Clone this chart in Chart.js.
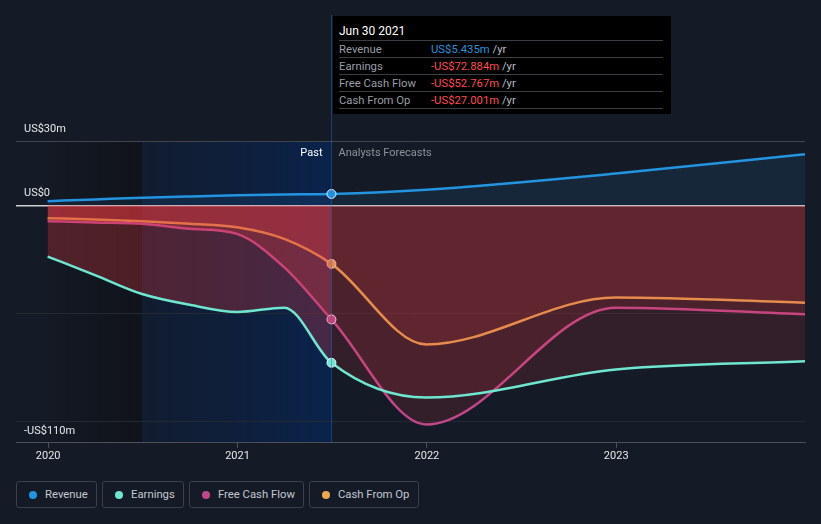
<!DOCTYPE html>
<html>
<head>
<meta charset="utf-8">
<script src="https://cdn.jsdelivr.net/npm/chart.js@4/dist/chart.umd.min.js"></script>
<style>
  html, body { margin: 0; padding: 0; background: #151b26; font-family: Roboto, "Noto Sans", sans-serif; }
  #wrap { position: relative; width: 821px; height: 524px; overflow: hidden; }
  #box { position: absolute; left: 0; top: 0; width: 821px; height: 470px; }
  #tip { position: absolute; left: 333px; top: 16px; width: 338px; height: 98px; background: #000; }
  #tip .title { position: absolute; left: 6px; top: 8px; color: #fff; font-size: 12px; }
  #tip .row { position: absolute; left: 6px; width: 324px; height: 17px; border-top: 1px solid #3a3d44; font-size: 11.3px; line-height: 17px; }
  #tip .lab { position: absolute; left: 0; color: #9a9ea6; }
  #tip .val { position: absolute; left: 92px; white-space: nowrap; }
  #tip .u { color: #b8bcc4; }
  #legend { position: absolute; left: 16px; top: 481px; display: flex; gap: 5px; }
  .item { height: 27px; border: 1px solid #3b404a; border-radius: 3px; display: flex; align-items: center; padding-left: 12px; color: #c3c7cf; font-size: 11.3px; box-sizing: border-box; white-space: nowrap; }
  .dot { width: 8px; height: 8px; border-radius: 50%; margin-right: 8px; }
</style>
</head>
<body>
<div id="wrap">
  <div id="box"><canvas id="chart" width="821" height="470"></canvas></div>
  <div id="tip"></div>
  <div id="legend"></div>
</div>
<script>
// decimal years: quarterly history, then analyst forecasts
const dates = [2019.997, 2020.247, 2020.496, 2020.748, 2020.997, 2021.247, 2021.496, 2021.997, 2022.997, 2023.997];
const revenue = [2.1, 2.9, 3.7, 4.3, 4.8, 5.2, 5.435, 7.4, 14.9, 23.9];
const earnings = [-23.6, -32.2, -41, -46, -49.3, -47.3, -72.884, -89, -76, -72.2];
const freeCashFlow = [-7.2, -7.8, -8.4, -10.7, -13.1, -28.6, -52.767, -101.5, -47.3, -50.4];
const cashFromOp = [-5.8, -6.4, -7.2, -8.4, -10, -15.4, -27.001, -64.4, -42.6, -45];

const yearTicks = [2020, 2021, 2022, 2023];
const yTicks = [-110, -100, -50, 0, 30];
const yLabels = { '30': 'US$30m', '0': 'US$0', '-110': '-US$110m' };

const pastStart = 2020.496;
const nowDate = 2021.496;

const names = ['Revenue', 'Earnings', 'Free Cash Flow', 'Cash From Op'];
const colors = ['#2394df', '#6ee6d0', '#c2478a', '#e8a952'];
const tipValues = ['US$5.435m', '-US$72.884m', '-US$52.767m', '-US$27.001m'];
const legendWidths = [81, 82, 115, 110];

function pts(vals) { return vals.map((v, i) => ({ x: dates[i], y: v })); }

function redFill(ctx) {
  const chart = ctx.chart;
  const ca = chart.chartArea;
  if (!ca) return 'rgba(226,56,62,0.2)';
  const p = chart.scales.x.getPixelForValue(nowDate);
  const s = Math.min(1, Math.max(0, (p - ca.left) / (ca.right - ca.left)));
  const g = chart.ctx.createLinearGradient(ca.left, 0, ca.right, 0);
  g.addColorStop(0, 'rgba(226,56,62,0.30)');
  g.addColorStop(s, 'rgba(226,56,62,0.28)');
  g.addColorStop(s, 'rgba(226,56,62,0.14)');
  g.addColorStop(1, 'rgba(226,56,62,0.14)');
  return g;
}

function makeSet(i, vals, fillColor) {
  return {
    label: names[i],
    data: pts(vals),
    borderColor: colors[i],
    backgroundColor: fillColor,
    fill: 'origin',
    borderWidth: 2.5,
    cubicInterpolationMode: 'monotone',
    pointRadius: c => (c.raw && c.raw.x === nowDate ? 4.5 : 0),
    pointBackgroundColor: colors[i],
    pointBorderColor: 'rgba(255,255,255,0.85)',
    pointBorderWidth: 1,
    pointHoverRadius: 0
  };
}

const bgPlugin = {
  id: 'bgPlugin',
  beforeDraw(chart) {
    const { ctx, chartArea: ca, scales: { x } } = chart;
    const x0 = x.getPixelForValue(dates[0]);
    const x1 = x.getPixelForValue(pastStart);
    const x2 = x.getPixelForValue(nowDate);
    ctx.save();
    let g = ctx.createLinearGradient(x0, 0, x1, 0);
    g.addColorStop(0, 'rgba(12,13,18,0.1)');
    g.addColorStop(1, 'rgba(12,13,18,0.55)');
    ctx.fillStyle = g;
    ctx.fillRect(x0, ca.top, x1 - x0, ca.bottom - ca.top);
    g = ctx.createLinearGradient(x1, 0, x2, 0);
    g.addColorStop(0, 'rgba(14,30,58,0.55)');
    g.addColorStop(1, 'rgba(10,36,80,0.9)');
    ctx.fillStyle = g;
    ctx.fillRect(x1, ca.top, x2 - x1, ca.bottom - ca.top);
    ctx.restore();
  },
  afterDatasetsDraw(chart) {
    const { ctx, chartArea: ca, scales: { x } } = chart;
    const x2 = Math.round(x.getPixelForValue(nowDate)) + 0.5;
    ctx.save();
    ctx.strokeStyle = 'rgba(35,110,200,0.45)';
    ctx.lineWidth = 1;
    ctx.beginPath();
    ctx.moveTo(x2, 15);
    ctx.lineTo(x2, ca.bottom);
    ctx.stroke();
    ctx.font = '11px Roboto';
    ctx.textBaseline = 'middle';
    ctx.textAlign = 'right';
    ctx.fillStyle = '#ffffff';
    ctx.fillText('Past', x2 - 9, ca.top + 12);
    ctx.textAlign = 'left';
    ctx.fillStyle = '#8d929b';
    ctx.fillText('Analysts Forecasts', x2 + 7, ca.top + 12);
    ctx.restore();
  }
};

new Chart(document.getElementById('chart'), {
  type: 'line',
  data: {
    datasets: [
      makeSet(0, revenue, 'rgba(35,148,223,0.10)'),
      makeSet(1, earnings, redFill),
      makeSet(2, freeCashFlow, redFill),
      makeSet(3, cashFromOp, redFill)
    ]
  },
  options: {
    responsive: false,
    animation: false,
    events: [],
    layout: { padding: { left: 0, right: 16, top: 141, bottom: 5 } },
    plugins: { legend: { display: false }, tooltip: { enabled: false } },
    scales: {
      x: {
        type: 'linear',
        min: 2019.83,
        max: 2023.997,
        afterBuildTicks: s => { s.ticks = yearTicks.map(v => ({ value: v })); },
        ticks: { color: '#e6e8ec', font: { family: 'Roboto', size: 11 }, padding: 2, maxRotation: 0, callback: v => String(v) },
        grid: { display: true, drawOnChartArea: false, drawTicks: true, tickLength: 5, color: '#4b5059' },
        border: { display: true, color: '#4b5059', width: 1 }
      },
      y: {
        type: 'linear',
        min: -110,
        max: 30,
        afterBuildTicks: s => { s.ticks = yTicks.map(v => ({ value: v })); },
        ticks: {
          mirror: true,
          padding: 8,
          labelOffset: -12,
          color: '#e6e8ec',
          font: { family: 'Roboto', size: 11 },
          callback: v => yLabels[String(v)] || ''
        },
        grid: {
          drawTicks: false,
          lineWidth: c => (c.tick && c.tick.value === 0 ? 1.5 : 1),
          color: c => {
            const v = c.tick && c.tick.value;
            if (v === 0) return '#cfd0d3';
            if (v === 30) return '#3f444d';
            if (v === -110) return 'rgba(0,0,0,0)';
            return '#232831';
          }
        },
        border: { display: false }
      }
    }
  },
  plugins: [bgPlugin]
});

// tooltip box (HTML)
const tip = document.getElementById('tip');
let html = '<div class="title">Jun 30 2021</div>';
names.forEach((n, i) => {
  const top = 24 + i * 17;
  const c = i === 0 ? '#2394df' : '#ff4a4a';
  html += '<div class="row" style="top:' + top + 'px"><span class="lab">' + n + '</span><span class="val"><span style="color:' + c + '">' + tipValues[i] + '</span> <span class="u">/yr</span></span></div>';
});
html += '<div class="row" style="top:' + (24 + 4 * 17) + 'px;height:0"></div>';
tip.innerHTML = html;

// legend (HTML)
const legend = document.getElementById('legend');
names.forEach((n, i) => {
  const d = document.createElement('div');
  d.className = 'item';
  d.style.width = legendWidths[i] + 'px';
  d.innerHTML = '<span class="dot" style="background:' + colors[i] + '"></span>' + n;
  legend.appendChild(d);
});
</script>
</body>
</html>
